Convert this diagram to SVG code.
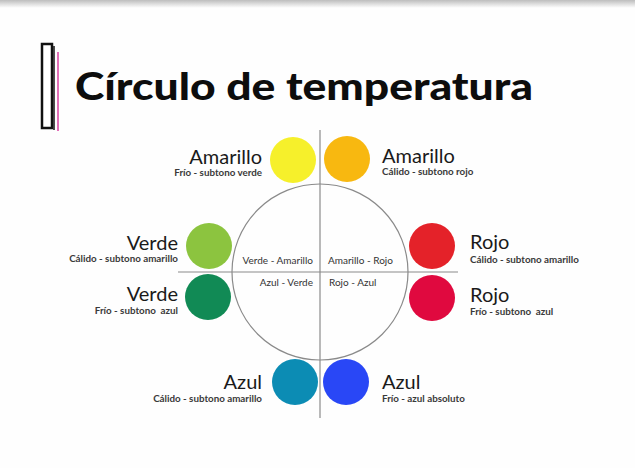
<svg xmlns="http://www.w3.org/2000/svg" width="635" height="468" viewBox="0 0 635 468">
<defs>
<linearGradient id="topband" x1="0" y1="0" x2="0" y2="1">
<stop offset="0" stop-color="#bdbdbd"/>
<stop offset="1" stop-color="#ffffff"/>
</linearGradient>
<style>
.name{font-family:Lato,"Liberation Sans",sans-serif;font-size:20px;fill:#1a1a1a}
.sub{font-family:Lato,"Liberation Sans",sans-serif;font-size:9.8px;font-weight:bold;fill:#3a3a3a;white-space:pre}
.inner{font-family:Lato,"Liberation Sans",sans-serif;font-size:10px;fill:#333}
.r{text-anchor:end}
.axis{stroke:#8a8a8a;stroke-width:1.2;fill:none}
</style>
</defs>
<rect width="635" height="468" fill="#fefefe"/>
<rect width="635" height="8" fill="url(#topband)"/>
<g id="title">
<rect x="42" y="44" width="10" height="84" fill="#fff" stroke="#111" stroke-width="2.5"/>
<line x1="54" y1="46" x2="54" y2="130" stroke="#111" stroke-width="1.5"/>
<line x1="58" y1="52" x2="58" y2="131" stroke="#e26fb8" stroke-width="2"/>
<text x="75" y="100" font-family="Lato,'Liberation Sans',sans-serif" font-weight="900" font-size="37" fill="#0d0d0d" textLength="458" lengthAdjust="spacingAndGlyphs">Círculo de temperatura</text>
</g>
<g id="connectors">
<circle class="axis" cx="320" cy="272" r="88"/>
<line class="axis" x1="320" y1="130" x2="320" y2="418"/>
<line class="axis" x1="178" y1="272" x2="458" y2="272"/>
</g>
<g id="quadrants">
<text class="inner r" x="313" y="264">Verde - Amarillo</text>
<text class="inner" x="328" y="264">Amarillo - Rojo</text>
<text class="inner r" x="313" y="286">Azul - Verde</text>
<text class="inner" x="329" y="286">Rojo - Azul</text>
</g>
<g id="amarillo-frio">
<circle cx="293" cy="160" r="23" fill="#f6f02b"/>
<text class="name r" x="262" y="164">Amarillo</text>
<text class="sub r" x="262" y="176">Frío - subtono verde</text>
</g>
<g id="amarillo-calido">
<circle cx="347" cy="159" r="23" fill="#f8b810"/>
<text class="name" x="382" y="163">Amarillo</text>
<text class="sub" x="382" y="175">Cálido - subtono rojo</text>
</g>
<g id="verde-calido">
<circle cx="209" cy="246" r="23" fill="#8cc43f"/>
<text class="name r" x="178" y="250">Verde</text>
<text class="sub r" x="178" y="262">Cálido - subtono amarillo</text>
</g>
<g id="verde-frio">
<circle cx="208" cy="297" r="23" fill="#118a55"/>
<text class="name r" x="178" y="301">Verde</text>
<text class="sub r" x="178" y="314">Frío - subtono  azul</text>
</g>
<g id="rojo-calido">
<circle cx="432" cy="246" r="23" fill="#e42229"/>
<text class="name" x="470" y="249">Rojo</text>
<text class="sub" x="470" y="263">Cálido - subtono amarillo</text>
</g>
<g id="rojo-frio">
<circle cx="432" cy="298" r="23" fill="#e0093f"/>
<text class="name" x="470" y="302">Rojo</text>
<text class="sub" x="470" y="315">Frío - subtono  azul</text>
</g>
<g id="azul-calido">
<circle cx="295" cy="382" r="23" fill="#0c8cb4"/>
<text class="name r" x="262" y="389">Azul</text>
<text class="sub r" x="262" y="402">Cálido - subtono amarillo</text>
</g>
<g id="azul-frio">
<circle cx="346" cy="382" r="23" fill="#2947f6"/>
<text class="name" x="382" y="389">Azul</text>
<text class="sub" x="382" y="402">Frío - azul absoluto</text>
</g>
</svg>
